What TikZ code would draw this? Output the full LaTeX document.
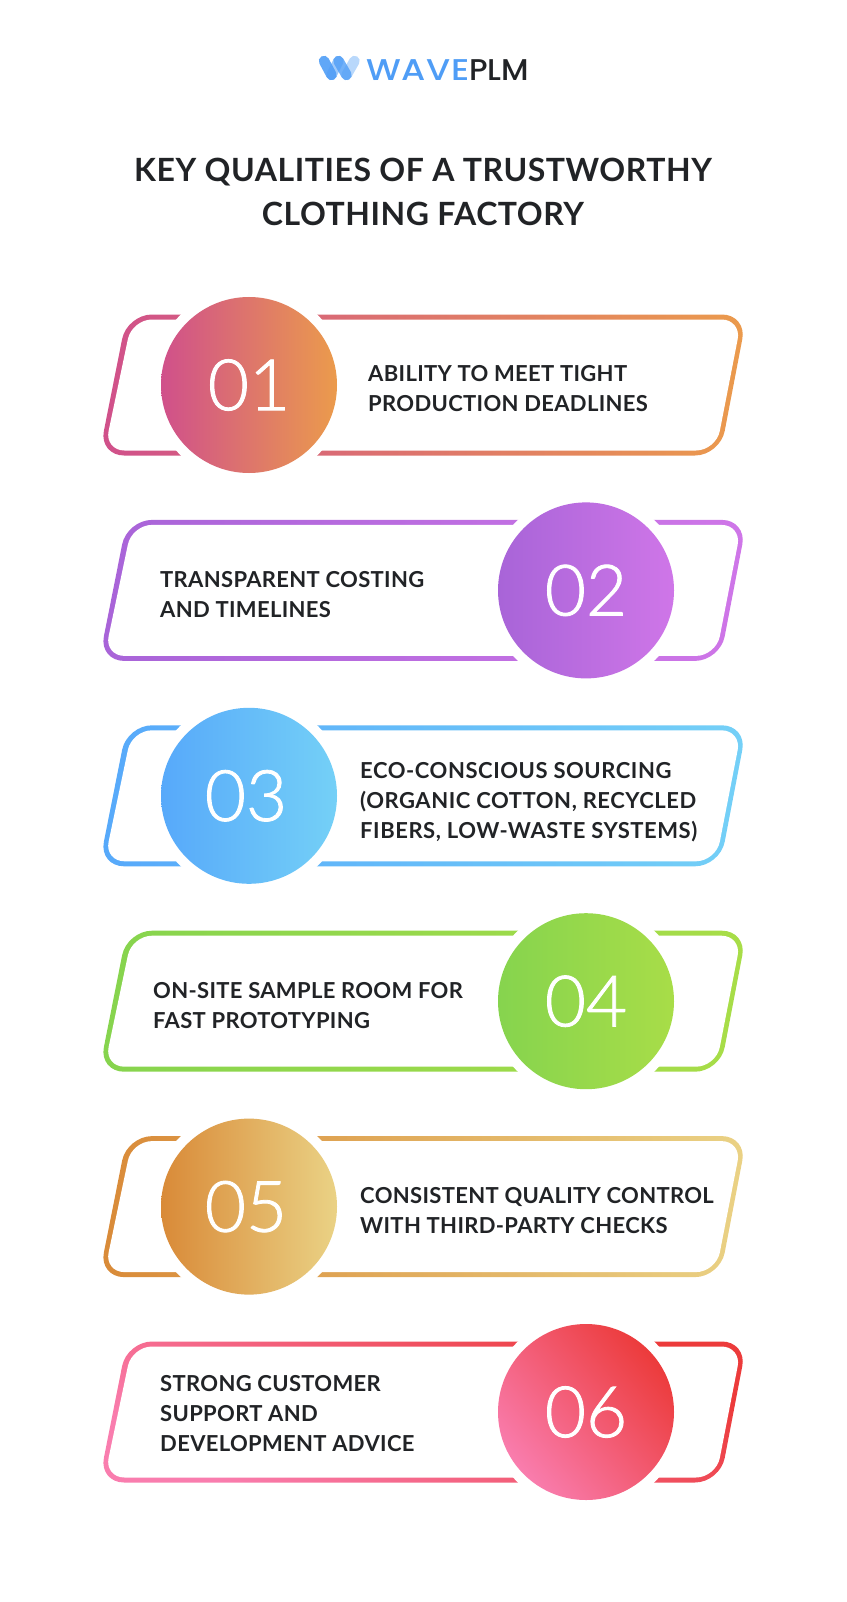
\documentclass[tikz,border=0pt]{standalone}
\usepackage{fontspec}
\setmainfont{Lato}
\newfontfamily\logofont{Poppins}[UprightFont=* Medium,FakeStretch=1.04]
\newfontfamily\wavefont{Poppins}[UprightFont=* Medium,FakeStretch=1.16,LetterSpace=2]
\newfontfamily\numfont{Lato}[UprightFont=* Light,FakeBold=1.2]
\definecolor{inkdark}{HTML}{212326}
\definecolor{waveblue}{HTML}{4F9DF6}
\newcommand{\panelout}{(127,314.5) -- (747,314.5) -- (720,455.5) -- (99,455.5) -- cycle}
\newcommand{\panelin}{(132,319.5) -- (741.5,319.5) -- (716,450.5) -- (104.5,450.5) -- cycle}
\tikzset{
  panelouter/.style={rounded corners=25pt},
  panelinner/.style={fill=white,rounded corners=20pt},
  halo/.style={fill=white},
  numlabel/.style={text=white,font=\numfont\fontsize{71}{71}\selectfont,inner sep=0pt},
  rowtext/.style={text=inkdark,anchor=west,align=left,inner sep=0pt,font=\bfseries\fontsize{22}{30}\selectfont\addfontfeature{LetterSpace=1.5}},
  logostroke/.style={draw=waveblue,line width=10.5pt,line cap=round}
}
\begin{document}
\begin{tikzpicture}[x=1pt,y=-1pt]
  \useasboundingbox (0,0) rectangle (846,1602);
  % logo
  \draw[logostroke,opacity=0.9] (324,61) -- (331.5,75);
  \draw[logostroke,opacity=0.55] (331.5,75) -- (338.5,61);
  \draw[logostroke,opacity=0.8] (338.5,61) -- (346.5,75);
  \draw[logostroke,opacity=0.4] (346.5,75) -- (354.5,61);
  \node (logo) [anchor=west,inner sep=0pt,font=\logofont\fontsize{30}{30}\selectfont] at (366,70)
    {\textcolor{waveblue}{\wavefont WAVE}\textcolor{inkdark}{PLM}};
  % title
  \node (title) [text=inkdark,align=center,inner sep=0pt,font=\bfseries\fontsize{32}{44}\selectfont\addfontfeature{LetterSpace=1.7}] at (423,192)
    {KEY QUALITIES OF A TRUSTWORTHY\\CLOTHING FACTORY};
  % row 1
  \begin{scope}
    \shade[panelouter,left color={rgb,255:red,208;green,80;blue,139},right color={rgb,255:red,235;green,155;blue,76}] \panelout;
    \fill[panelinner] \panelin;
    \fill[halo] (249,385) circle (98);
    \shade[left color={rgb,255:red,208;green,80;blue,139},right color={rgb,255:red,235;green,155;blue,76}] (249,385) circle (88);
    \node (num1) [numlabel] at (249,385) {01};
    \node (text1) [rowtext] at (368,389) {ABILITY TO MEET TIGHT\\PRODUCTION DEADLINES};
  \end{scope}
  % row 2
  \begin{scope}[yshift=-205.4pt]
    \shade[panelouter,left color={rgb,255:red,168;green,100;blue,216},right color={rgb,255:red,207;green,118;blue,232}] \panelout;
    \fill[panelinner] \panelin;
    \fill[halo] (586,385) circle (98);
    \shade[left color={rgb,255:red,168;green,100;blue,216},right color={rgb,255:red,207;green,118;blue,232}] (586,385) circle (88);
    \node (num2) [numlabel] at (586,385) {02};
    \node (text2) [rowtext] at (160,389) {TRANSPARENT COSTING\\AND TIMELINES};
  \end{scope}
  % row 3
  \begin{scope}[yshift=-410.8pt]
    \shade[panelouter,left color={rgb,255:red,87;green,169;blue,250},right color={rgb,255:red,116;green,208;blue,247}] \panelout;
    \fill[panelinner] \panelin;
    \fill[halo] (249,385) circle (98);
    \shade[left color={rgb,255:red,87;green,169;blue,250},right color={rgb,255:red,116;green,208;blue,247}] (249,385) circle (88);
    \node (num3) [numlabel] at (246,385) {03};
    \node (text3) [rowtext,font=\bfseries\fontsize{22}{30}\selectfont\addfontfeature{LetterSpace=2.5}] at (360,391) {ECO-CONSCIOUS SOURCING\\(ORGANIC COTTON, RECYCLED\\FIBERS, LOW-WASTE SYSTEMS)};
  \end{scope}
  % row 4
  \begin{scope}[yshift=-616.2pt]
    \shade[panelouter,left color={rgb,255:red,134;green,212;blue,78},right color={rgb,255:red,168;green,221;blue,72}] \panelout;
    \fill[panelinner] \panelin;
    \fill[halo] (586,385) circle (98);
    \shade[left color={rgb,255:red,134;green,212;blue,78},right color={rgb,255:red,168;green,221;blue,72}] (586,385) circle (88);
    \node (num4) [numlabel] at (586,385) {04};
    \node (text4) [rowtext] at (153,389) {ON-SITE SAMPLE ROOM FOR\\FAST PROTOTYPING};
  \end{scope}
  % row 5
  \begin{scope}[yshift=-821.6pt]
    \shade[panelouter,left color={rgb,255:red,217;green,138;blue,56},right color={rgb,255:red,234;green,210;blue,133}] \panelout;
    \fill[panelinner] \panelin;
    \fill[halo] (249,385) circle (98);
    \shade[left color={rgb,255:red,217;green,138;blue,56},right color={rgb,255:red,234;green,210;blue,133}] (249,385) circle (88);
    \node (num5) [numlabel] at (246,385) {05};
    \node (text5) [rowtext] at (360,389) {CONSISTENT QUALITY CONTROL\\WITH THIRD-PARTY CHECKS};
  \end{scope}
  % row 6
  \begin{scope}[yshift=-1027pt]
    \shade[panelouter,left color={rgb,255:red,249;green,125;blue,174},right color={rgb,255:red,236;green,59;blue,59},shading angle=150] \panelout;
    \fill[panelinner] \panelin;
    \fill[halo] (586,385) circle (98);
    \shade[left color={rgb,255:red,249;green,125;blue,174},right color={rgb,255:red,236;green,59;blue,59},shading angle=130] (586,385) circle (88);
    \node (num6) [numlabel] at (586,385) {06};
    \node (text6) [rowtext] at (160,387) {STRONG CUSTOMER\\SUPPORT AND\\DEVELOPMENT ADVICE};
  \end{scope}
\end{tikzpicture}
\end{document}
